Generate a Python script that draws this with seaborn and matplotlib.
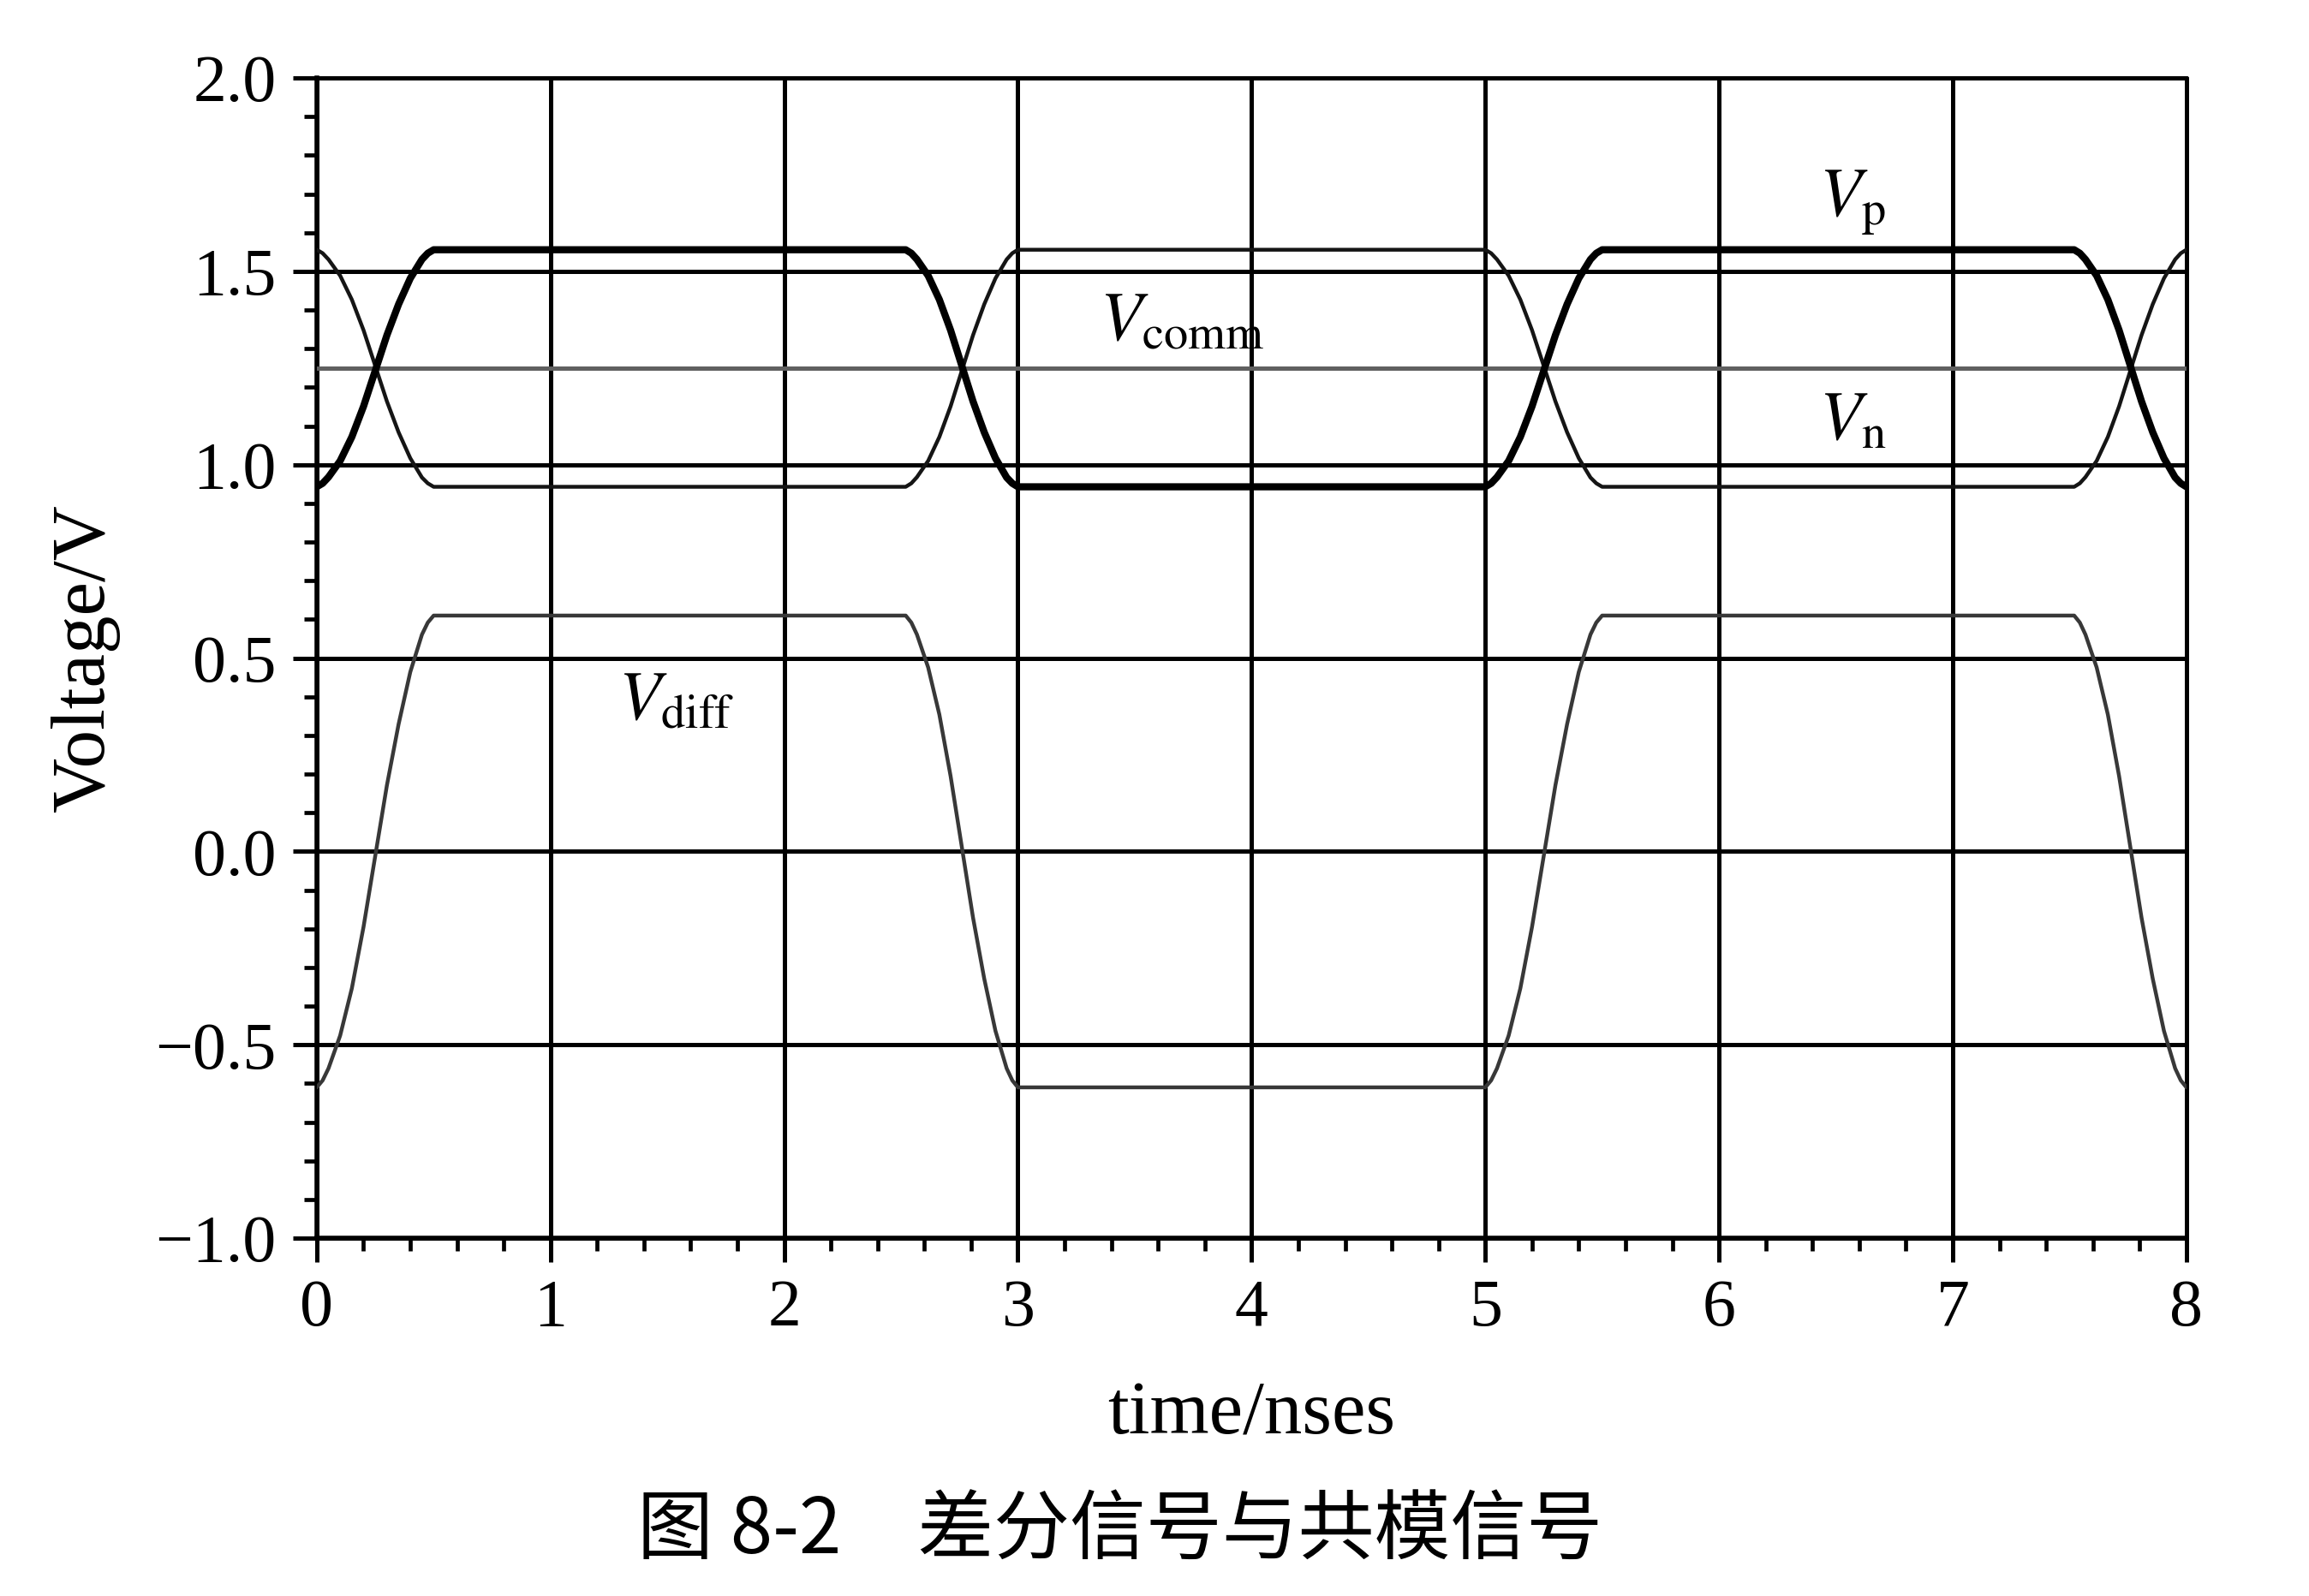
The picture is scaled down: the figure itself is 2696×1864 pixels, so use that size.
"""
差分信号与共模信号 (Vp / Vn / Vcomm / Vdiff) の再現
"""
import matplotlib
matplotlib.use("Agg")
import matplotlib.pyplot as plt
from matplotlib.ticker import MultipleLocator
import seaborn as sns

sns.set_theme(style="ticks")
plt.rcParams['font.family'] = ['Liberation Serif', 'Noto Sans CJK SC', 'DejaVu Sans']
plt.rcParams['mathtext.fontset'] = 'stix'
plt.rcParams['axes.unicode_minus'] = True

# --- data ---
# time points (ns): two rising edges (0, 5 ns) and two falling edges (2.52, 7.52 ns)
time_ns = [0.000, 0.025, 0.050, 0.100, 0.150, 0.200, 0.250, 0.300, 0.350, 0.400, 0.450, 0.475, 0.500,
           2.520, 2.544, 2.568, 2.616, 2.664, 2.712, 2.760, 2.808, 2.856, 2.904, 2.952, 2.976, 3.000,
           5.000, 5.025, 5.050, 5.100, 5.150, 5.200, 5.250, 5.300, 5.350, 5.400, 5.450, 5.475, 5.500,
           7.520, 7.544, 7.568, 7.616, 7.664, 7.712, 7.760, 7.808, 7.856, 7.904, 7.952, 7.976, 8.000]

v_p = [0.943, 0.952, 0.968, 1.010, 1.072, 1.151, 1.243, 1.335, 1.415, 1.482, 1.531, 1.547, 1.556,
       1.556, 1.547, 1.531, 1.489, 1.427, 1.348, 1.256, 1.164, 1.084, 1.017, 0.967, 0.952, 0.943,
       0.943, 0.952, 0.968, 1.010, 1.072, 1.151, 1.243, 1.335, 1.415, 1.482, 1.531, 1.547, 1.556,
       1.556, 1.547, 1.531, 1.489, 1.427, 1.348, 1.256, 1.164, 1.084, 1.017, 0.967, 0.952, 0.943]

v_n = [1.556, 1.547, 1.531, 1.489, 1.427, 1.348, 1.256, 1.164, 1.084, 1.017, 0.967, 0.952, 0.943,
       0.943, 0.952, 0.968, 1.010, 1.072, 1.151, 1.243, 1.335, 1.415, 1.482, 1.531, 1.547, 1.556,
       1.556, 1.547, 1.531, 1.489, 1.427, 1.348, 1.256, 1.164, 1.084, 1.017, 0.967, 0.952, 0.943,
       0.943, 0.952, 0.968, 1.010, 1.072, 1.151, 1.243, 1.335, 1.415, 1.482, 1.531, 1.547, 1.556]

v_diff = [-0.610, -0.592, -0.561, -0.476, -0.354, -0.195, -0.012, 0.171, 0.329, 0.464, 0.561, 0.592, 0.610,
          0.610, 0.592, 0.561, 0.476, 0.354, 0.195, 0.012, -0.171, -0.329, -0.464, -0.561, -0.592, -0.610,
          -0.610, -0.592, -0.561, -0.476, -0.354, -0.195, -0.012, 0.171, 0.329, 0.464, 0.561, 0.592, 0.610,
          0.610, 0.592, 0.561, 0.476, 0.354, 0.195, 0.012, -0.171, -0.329, -0.464, -0.561, -0.592, -0.610]

comm_time = [0.0, 8.0]
v_comm = [1.25, 1.25]

x_ticks = [0, 1, 2, 3, 4, 5, 6, 7, 8]
y_ticks = [-1.0, -0.5, 0.0, 0.5, 1.0, 1.5, 2.0]

# --- figure ---
fig = plt.figure(figsize=(26.96, 18.64), dpi=100)
ax = fig.add_axes([0.1372, 0.2242, 0.8097, 0.7269])

sns.lineplot(x=time_ns, y=v_diff, ax=ax, sort=False, color='#383838', linewidth=3.2, zorder=3)
sns.lineplot(x=comm_time, y=v_comm, ax=ax, sort=False, color='#606060', linewidth=3.6, zorder=3)
sns.lineplot(x=time_ns, y=v_n, ax=ax, sort=False, color='#151515', linewidth=3.2, zorder=4)
sns.lineplot(x=time_ns, y=v_p, ax=ax, sort=False, color='black', linewidth=6.0, zorder=5)

ax.set_xlim(0, 8)
ax.set_ylim(-1.0, 2.0)
ax.set_xticks(x_ticks)
ax.set_yticks(y_ticks)
ax.set_yticklabels([f"{v:.1f}".replace('-', '\u2212') for v in y_ticks])
ax.xaxis.set_minor_locator(MultipleLocator(0.2))
ax.yaxis.set_minor_locator(MultipleLocator(0.1))

ax.grid(True, which='major', color='black', linewidth=3.6)
ax.set_axisbelow(True)
for gl in ax.get_xgridlines() + ax.get_ygridlines():
    gl.set_clip_on(False)

sns.despine(ax=ax, top=True, right=True)
for side in ['left', 'bottom']:
    ax.spines[side].set_linewidth(4.0)
    ax.spines[side].set_color('black')

ax.tick_params(which='major', direction='out', length=20, width=3.6, pad=14,
               labelsize=56, colors='black')
ax.tick_params(which='minor', direction='out', length=11, width=3.4, colors='black')

ax.set_xlabel('time/nses', fontsize=64, labelpad=34, color='black')
ax.set_ylabel('Voltage/V', fontsize=64, labelpad=30, color='black')

# curve labels
lbl = dict(fontsize=58, ha='left', va='baseline', color='black')
ax.text(6.43, 1.643, r'$V_{\mathrm{p}}$', **lbl)
ax.text(6.43, 1.066, r'$V_{\mathrm{n}}$', **lbl)
ax.text(3.35, 1.322, r'$V_{\mathrm{comm}}$', **lbl)
ax.text(1.29, 0.341, r'$V_{\mathrm{diff}}$', **lbl)

# caption
fig.text(0.485, 0.040, '图 8-2\u3000差分信号与共模信号', family=['Noto Sans CJK SC', 'DejaVu Sans'],
         fontsize=64, ha='center', va='center', color='black')

fig.savefig('out.png', dpi=100, facecolor='white')
